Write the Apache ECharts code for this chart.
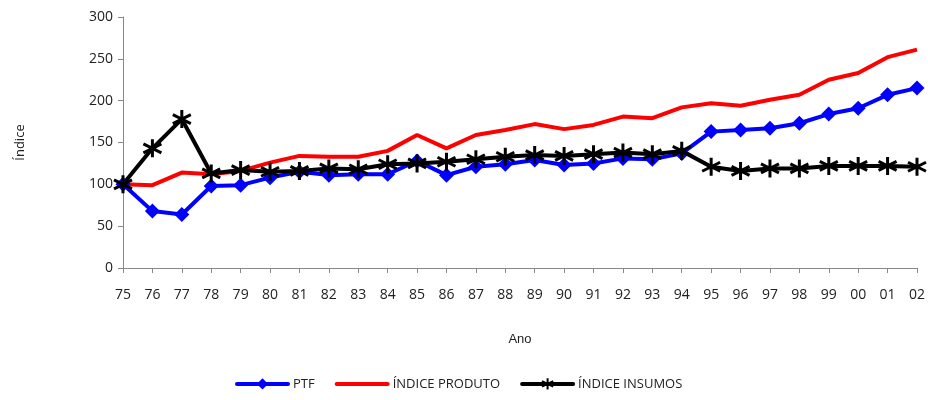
<!DOCTYPE html>
<html><head><meta charset="utf-8">
<script src="https://cdn.jsdelivr.net/npm/echarts@6/dist/echarts.min.js"></script>
<style>html,body{margin:0;padding:0;background:#fff}#c{width:928px;height:400px}</style>
</head><body><div id="c"></div>
<script>
const years = ['75','76','77','78','79','80','81','82','83','84','85','86','87','88','89','90','91','92','93','94','95','96','97','98','99','00','01','02'];
const ptf = [100,68,64,98,99,108,115,111,112,112,128,111,121,124,129,123,125,131,130,137,163,165,167,173,184,191,207,215];
const produto = [100,99,114,112,116,126,134,133,133,140,159,143,159,165,172,166,171,181,179,192,197,194,201,207,225,233,252,261];
const insumos = [100,143,178,113,117,115,116,119,118,124,125,127,130,133,135,134,136,138,136,140,121,116,119,119,122,122,122,121];
const yTicks = {min:0, max:300, interval:50};

const font = 'Open Sans';
const chart = echarts.init(document.getElementById('c'));
chart.setOption({
  animation:false,
  textStyle:{fontFamily:font},
  grid:{left:123,right:9,top:17,bottom:132},
  legend:{
    bottom:3, left:230, itemWidth:51, itemHeight:14, itemGap:20,
    lineStyle:{width:4, cap:'round'},
    textStyle:{fontFamily:font,fontSize:13,color:'#222'},
    data:['PTF',{name:'ÍNDICE PRODUTO',itemStyle:{opacity:0}},'ÍNDICE INSUMOS']
  },
  xAxis:{
    type:'category', data:years, boundaryGap:false,
    name:'Ano', nameLocation:'middle', nameGap:65,
    nameTextStyle:{fontFamily:'Liberation Sans',fontSize:13,color:'#222'},
    axisLine:{lineStyle:{color:'#888',width:1}},
    axisTick:{alignWithLabel:true,length:5,lineStyle:{color:'#888'}},
    axisLabel:{fontFamily:font,fontSize:14,color:'#222',margin:20}
  },
  yAxis:{
    type:'value', min:yTicks.min, max:yTicks.max, interval:yTicks.interval,
    name:'Índice', nameLocation:'middle', nameGap:96, nameRotate:90,
    nameTextStyle:{fontFamily:font,fontSize:13,color:'#222'},
    axisLine:{show:true,lineStyle:{color:'#888',width:1}},
    axisTick:{show:true,length:5,lineStyle:{color:'#888'}},
    splitLine:{show:false},
    axisLabel:{fontFamily:font,fontSize:14,color:'#222',margin:10}
  },
  series:[
    {name:'ÍNDICE PRODUTO', type:'line', data:produto, symbol:'circle', symbolSize:1, showSymbol:false,
     lineStyle:{color:'#ff0000',width:4}, itemStyle:{color:'#ff0000'}, z:2},
    {name:'PTF', type:'line', data:ptf, symbol:'diamond', symbolSize:15,
     lineStyle:{color:'#0000ff',width:4}, itemStyle:{color:'#0000ff'}, z:3},
    {name:'ÍNDICE INSUMOS', type:'line', data:insumos,
     symbol:'path://M0,-10L0,10M-8.66,-5L8.66,5M-8.66,5L8.66,-5', symbolSize:18,
     lineStyle:{color:'#000',width:4},
     itemStyle:{color:'none',borderColor:'#000',borderWidth:3}, z:4}
  ]
});
</script></body></html>
